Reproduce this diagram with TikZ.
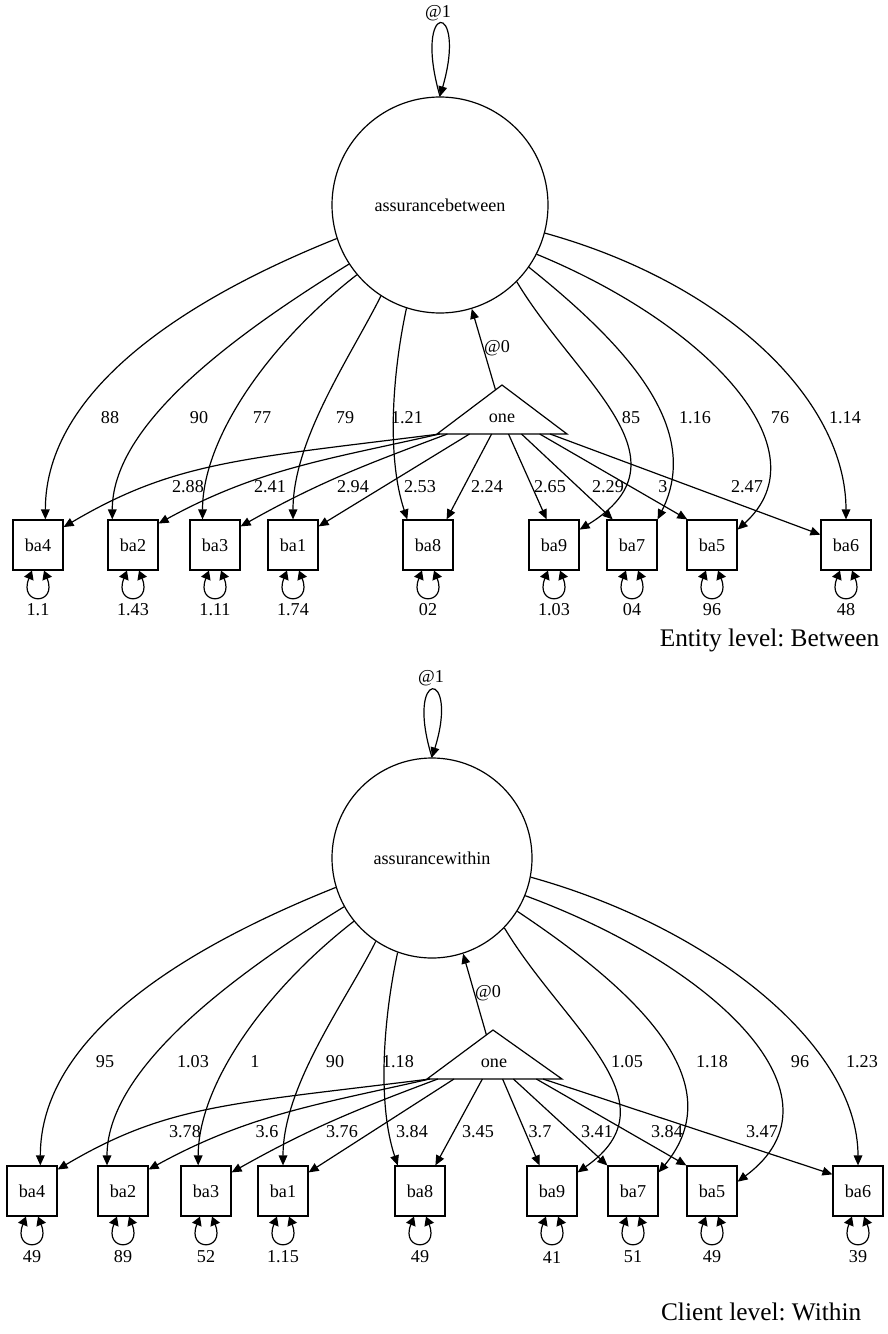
\documentclass[tikz,border=0pt]{standalone}
\usepackage{fontspec}
\setmainfont{Liberation Serif}
\usepackage{tikz}
\usetikzlibrary{arrows.meta,calc}
\frenchspacing

\begin{document}
\begin{tikzpicture}[x=0.75pt,y=-0.75pt,
  every node/.style={font=\fontsize{13.6}{16}\selectfont},
  latent/.style={draw,circle,line width=0.9pt,inner sep=0pt},
  manifest/.style={draw,rectangle,line width=0.9pt,minimum size=37.5pt,inner sep=0pt},
  arr/.style={line width=0.9pt,-{Triangle[length=7.5pt,width=6.5pt]}},
  varloop/.style={line width=0.9pt,{Triangle[length=6.5pt,width=7.5pt]}-{Triangle[length=6.5pt,width=7.5pt]}},
  caption/.style={font=\fontsize{19}{22}\selectfont,anchor=east}]
\useasboundingbox (0,0) rectangle (888,1334);

% Entity level: Between
\node[latent,minimum size=162pt] (lb) at (440,205) {assurancebetween};
\coordinate (tba) at (502,385);
\coordinate (tbl) at (437,434);
\coordinate (tbr) at (567,434);
\draw[line width=0.9pt] (tba) -- (tbl) -- (tbr) -- cycle;
\node (oneb) at (502,418) {one};
\node[manifest] (b4) at (38,545) {ba4};
\node[manifest] (b2) at (133,545) {ba2};
\node[manifest] (b3) at (215,545) {ba3};
\node[manifest] (b1) at (293,545) {ba1};
\node[manifest] (b8) at (428,545) {ba8};
\node[manifest] (b9) at (554,545) {ba9};
\node[manifest] (b7) at (632,545) {ba7};
\node[manifest] (b5) at (712,545) {ba5};
\node[manifest] (b6) at (846,545) {ba6};

\node (at1b) at (438,13) {@1};
\draw[arr] (lb.north) .. controls +(-28,-97) and +(28,-97) .. (lb.north);
\node (at0b) at (497,348) {@0};
\draw[arr] ($(tba)!0.1!(tbl)$) -- (lb.287);

\draw[arr] (lb.198) .. controls +(-150,60) and +(0,-130) .. (b4.74);
\draw[arr] (lb.213) .. controls +(-130,80) and +(0,-90) .. (b2.129);
\draw[arr] (lb.220) .. controls +(-90,70) and +(0,-80) .. (b3.116);
\draw[arr] (lb.237) .. controls +(-30,60) and +(0,-80) .. (b1.north);
\draw[arr] (lb.252) .. controls +(-15,70) and +(-20,-60) .. (b8.129);
\draw[arr] (lb.315) .. controls +(60,100) and +(115,-70) .. (b9.31);
\draw[arr] (lb.325) .. controls +(100,80) and +(45,-90) .. (b7.45);
\draw[arr] (lb.333) .. controls +(170,70) and +(88,-80) .. (b5.31);
\draw[arr] (lb.345) .. controls +(180,50) and +(0,-120) .. (b6.north);
\node (l4b) at (110,418) {88};
\node (l2b) at (199,418) {90};
\node (l3b) at (262,418) {77};
\node (l1b) at (345,418) {79};
\node (l8b) at (407,418) {1.21};
\node (l9b) at (631,418) {85};
\node (l7b) at (695,418) {1.16};
\node (l5b) at (780,418) {76};
\node (l6b) at (845,418) {1.14};

\draw[arr] ($(tbl)!0.02!(tbr)$) .. controls +(-200,25) and +(110,-65) .. (b4.35);
\draw[arr] ($(tbl)!0.02!(tbr)$) .. controls +(-110,25) and +(100,-55) .. (b2.40);
\draw[arr] ($(tbl)!0.08!(tbr)$) .. controls +(-80,30) and +(80,-45) .. (b3.36);
\draw[arr] ($(tbl)!0.25!(tbr)$) -- (b1.36);
\draw[arr] ($(tbl)!0.42!(tbr)$) -- (b8.54);
\draw[arr] ($(tbl)!0.55!(tbr)$) -- (b9.106);
\draw[arr] ($(tbl)!0.65!(tbr)$) -- (b7.127);
\draw[arr] ($(tbl)!0.79!(tbr)$) -- (b5.134);
\draw[arr] ($(tbl)!0.87!(tbr)$) -- (b6.158);
\node (i4b) at (188,487) {2.88};
\node (i2b) at (270,487) {2.41};
\node (i3b) at (353,487) {2.94};
\node (i1b) at (420,487) {2.53};
\node (i8b) at (487,487) {2.24};
\node (i9b) at (550,487) {2.65};
\node (i7b) at (608,487) {2.29};
\node (i5b) at (663,487) {3};
\node (i6b) at (747,487) {2.47};

\draw[varloop] ([xshift=-4.5pt]b4.south) .. controls +(-14,35) and +(14,35) .. ([xshift=4.5pt]b4.south);
\draw[varloop] ([xshift=-4.5pt]b2.south) .. controls +(-14,35) and +(14,35) .. ([xshift=4.5pt]b2.south);
\draw[varloop] ([xshift=-4.5pt]b3.south) .. controls +(-14,35) and +(14,35) .. ([xshift=4.5pt]b3.south);
\draw[varloop] ([xshift=-4.5pt]b1.south) .. controls +(-14,35) and +(14,35) .. ([xshift=4.5pt]b1.south);
\draw[varloop] ([xshift=-4.5pt]b8.south) .. controls +(-14,35) and +(14,35) .. ([xshift=4.5pt]b8.south);
\draw[varloop] ([xshift=-4.5pt]b9.south) .. controls +(-14,35) and +(14,35) .. ([xshift=4.5pt]b9.south);
\draw[varloop] ([xshift=-4.5pt]b7.south) .. controls +(-14,35) and +(14,35) .. ([xshift=4.5pt]b7.south);
\draw[varloop] ([xshift=-4.5pt]b5.south) .. controls +(-14,35) and +(14,35) .. ([xshift=4.5pt]b5.south);
\draw[varloop] ([xshift=-4.5pt]b6.south) .. controls +(-14,35) and +(14,35) .. ([xshift=4.5pt]b6.south);
\node (v4b) at (38,610) {1.1};
\node (v2b) at (133,610) {1.43};
\node (v3b) at (215,610) {1.11};
\node (v1b) at (293,610) {1.74};
\node (v8b) at (428,610) {02};
\node (v9b) at (554,610) {1.03};
\node (v7b) at (632,610) {04};
\node (v5b) at (712,610) {96};
\node (v6b) at (846,610) {48};
\node[caption] (capb) at (884,640) {Entity level: Between};

% Client level: Within
\node[latent,minimum size=150pt] (lw) at (432,858) {assurancewithin};
\coordinate (twa) at (493,1030);
\coordinate (twl) at (427,1079);
\coordinate (twr) at (562,1079);
\draw[line width=0.9pt] (twa) -- (twl) -- (twr) -- cycle;
\node (onew) at (494,1063) {one};
\node[manifest] (b4w) at (32,1191) {ba4};
\node[manifest] (b2w) at (123,1191) {ba2};
\node[manifest] (b3w) at (206,1191) {ba3};
\node[manifest] (b1w) at (283,1191) {ba1};
\node[manifest] (b8w) at (420,1191) {ba8};
\node[manifest] (b9w) at (552,1191) {ba9};
\node[manifest] (b7w) at (633,1191) {ba7};
\node[manifest] (b5w) at (712,1191) {ba5};
\node[manifest] (b6w) at (858,1191) {ba6};

\node (at1w) at (431,678) {@1};
\draw[arr] (lw.north) .. controls +(-28,-90) and +(28,-90) .. (lw.north);
\node (at0w) at (488,993) {@0};
\draw[arr] ($(twa)!0.1!(twl)$) -- (lw.288);

\draw[arr] (lw.197) .. controls +(-150,60) and +(0,-130) .. (b4w.72);
\draw[arr] (lw.209) .. controls +(-130,80) and +(0,-90) .. (b2w.122);
\draw[arr] (lw.219) .. controls +(-90,70) and +(0,-80) .. (b3w.107);
\draw[arr] (lw.236) .. controls +(-30,60) and +(0,-80) .. (b1w.north);
\draw[arr] (lw.250) .. controls +(-15,70) and +(-20,-60) .. (b8w.131);
\draw[arr] (lw.316) .. controls +(60,100) and +(100,-70) .. (b9w.36);
\draw[arr] (lw.328) .. controls +(120,80) and +(75,-90) .. (b7w.36);
\draw[arr] (lw.338) .. controls +(190,70) and +(115,-85) .. (b5w.20);
\draw[arr] (lw.349) .. controls +(180,50) and +(0,-120) .. (b6w.north);
\node (l4w) at (105,1062) {95};
\node (l2w) at (193,1062) {1.03};
\node (l3w) at (255,1062) {1};
\node (l1w) at (335,1062) {90};
\node (l8w) at (398,1062) {1.18};
\node (l9w) at (627,1062) {1.05};
\node (l7w) at (712,1062) {1.18};
\node (l5w) at (800,1062) {96};
\node (l6w) at (862,1062) {1.23};

\draw[arr] ($(twl)!0.02!(twr)$) .. controls +(-200,25) and +(110,-65) .. (b4w.40);
\draw[arr] ($(twl)!0.02!(twr)$) .. controls +(-110,25) and +(100,-55) .. (b2w.40);
\draw[arr] ($(twl)!0.08!(twr)$) .. controls +(-80,30) and +(80,-45) .. (b3w.36);
\draw[arr] ($(twl)!0.2!(twr)$) -- (b1w.36);
\draw[arr] ($(twl)!0.41!(twr)$) -- (b8w.59);
\draw[arr] ($(twl)!0.56!(twr)$) -- (b9w.116);
\draw[arr] ($(twl)!0.64!(twr)$) -- (b7w.135);
\draw[arr] ($(twl)!0.81!(twr)$) -- (b5w.135);
\draw[arr] ($(twl)!0.86!(twr)$) -- (b6w.147);
\node (i4w) at (185,1132) {3.78};
\node (i2w) at (267,1132) {3.6};
\node (i3w) at (342,1132) {3.76};
\node (i1w) at (412,1132) {3.84};
\node (i8w) at (478,1132) {3.45};
\node (i9w) at (540,1132) {3.7};
\node (i7w) at (597,1132) {3.41};
\node (i5w) at (667,1132) {3.84};
\node (i6w) at (762,1132) {3.47};

\draw[varloop] ([xshift=-4.5pt]b4w.south) .. controls +(-14,35) and +(14,35) .. ([xshift=4.5pt]b4w.south);
\draw[varloop] ([xshift=-4.5pt]b2w.south) .. controls +(-14,35) and +(14,35) .. ([xshift=4.5pt]b2w.south);
\draw[varloop] ([xshift=-4.5pt]b3w.south) .. controls +(-14,35) and +(14,35) .. ([xshift=4.5pt]b3w.south);
\draw[varloop] ([xshift=-4.5pt]b1w.south) .. controls +(-14,35) and +(14,35) .. ([xshift=4.5pt]b1w.south);
\draw[varloop] ([xshift=-4.5pt]b8w.south) .. controls +(-14,35) and +(14,35) .. ([xshift=4.5pt]b8w.south);
\draw[varloop] ([xshift=-4.5pt]b9w.south) .. controls +(-14,35) and +(14,35) .. ([xshift=4.5pt]b9w.south);
\draw[varloop] ([xshift=-4.5pt]b7w.south) .. controls +(-14,35) and +(14,35) .. ([xshift=4.5pt]b7w.south);
\draw[varloop] ([xshift=-4.5pt]b5w.south) .. controls +(-14,35) and +(14,35) .. ([xshift=4.5pt]b5w.south);
\draw[varloop] ([xshift=-4.5pt]b6w.south) .. controls +(-14,35) and +(14,35) .. ([xshift=4.5pt]b6w.south);
\node (v4w) at (32,1257) {49};
\node (v2w) at (123,1257) {89};
\node (v3w) at (206,1257) {52};
\node (v1w) at (283,1257) {1.15};
\node (v8w) at (420,1257) {49};
\node (v9w) at (552,1257) {41};
\node (v7w) at (633,1257) {51};
\node (v5w) at (712,1257) {49};
\node (v6w) at (858,1257) {39};
\node[caption] (capw) at (866,1312) {Client level: Within};
\end{tikzpicture}
\end{document}
